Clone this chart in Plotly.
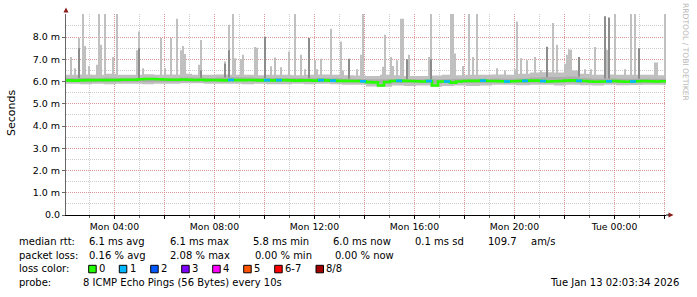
import plotly.graph_objects as go
import numpy as np

# ---------------- data ----------------
START_H = 2 + 3 / 60 + 34 / 3600      # Mon 02:03:34, hours since Mon 00:00
SPAN_H = 24.0

x_tick_hours = [4, 8, 12, 16, 20, 24]
x_tick_labels = ["Mon 04:00", "Mon 08:00", "Mon 12:00", "Mon 16:00", "Mon 20:00", "Tue 00:00"]
y_tick_vals = [0, 1, 2, 3, 4, 5, 6, 7, 8]
y_tick_labels = ["0.0", "1.0 m", "2.0 m", "3.0 m", "4.0 m", "5.0 m", "6.0 m", "7.0 m", "8.0 m"]

# median rtt (ms), 100 consecutive intervals of 14.4 min
median_ms = [
    6.05, 6.04, 6.05, 6.06, 6.06, 6.07, 6.06, 6.07, 6.07, 6.08, 6.08,
    6.08, 6.10, 6.11, 6.11, 6.10, 6.09, 6.08,
    6.08, 6.09, 6.08, 6.07, 6.08, 6.06, 6.07, 6.06, 6.05, 6.07, 6.06, 6.06, 6.07,
    6.06, 6.05, 6.06, 6.05, 6.06, 6.06, 6.05, 6.04, 6.05, 6.05, 6.04, 6.06, 6.05,
    6.04, 6.03, 6.03, 6.02, 6.02, 6.01, 5.97, 5.96,
    5.82, 5.98,
    6.02, 6.03, 6.03, 6.02, 6.01, 6.00, 6.02,
    5.82, 6.00,
    6.00, 5.95, 6.00, 6.02, 6.03, 6.03, 6.04, 6.02, 6.02, 6.01, 6.00, 6.01, 6.02, 6.03, 6.04, 6.04, 6.02, 6.00,
    6.01, 6.02, 6.04, 6.05, 6.03, 6.02, 6.00, 5.99, 6.00, 6.01, 6.02, 6.00, 5.99, 6.00, 6.01, 6.02, 6.01, 6.00, 6.01,
]
# lost pings per interval (same 100 intervals)
loss_pings = [
    0, 0, 0, 0, 0, 0, 0, 0, 0, 0, 0, 0, 0, 0, 0, 0, 0, 0, 0, 0,
    0, 0, 0, 0, 0, 0, 0, 1, 0, 0, 0, 0, 0, 1, 0, 1, 0, 0, 0, 0,
    0, 0, 1, 0, 1, 0, 0, 0, 0, 1, 0, 0, 0, 0, 0, 1, 0, 0, 0, 0,
    1, 0, 0, 1, 0, 0, 0, 0, 0, 1, 0, 0, 0, 1, 0, 0, 1, 0, 0, 1,
    0, 0, 0, 0, 0, 1, 0, 0, 0, 0, 1, 0, 0, 0, 1, 0, 0, 0, 0, 0,
]

# smoke envelope (ms), 48 half-hour intervals
smoke_hi = [6.30, 6.32, 6.30, 6.35, 6.30, 6.30, 6.33, 6.30, 6.32, 6.35, 6.30, 6.30,
            6.32, 6.30, 6.30, 6.28, 6.30, 6.30, 6.28, 6.30, 6.32, 6.30,
            6.28, 6.27, 6.25, 6.30, 6.28, 6.25, 6.25, 6.27, 6.30, 6.28, 6.30,
            6.30, 6.32, 6.30, 6.35, 6.40, 6.42, 6.40, 6.50, 6.35, 6.30, 6.32,
            6.30, 6.30, 6.30, 6.28]
smoke_lo = [5.90, 5.88, 5.90, 5.88, 5.90, 5.90, 5.88, 5.90, 5.90, 5.92, 5.92, 5.90,
            5.90, 5.90, 5.88, 5.90, 5.88, 5.88, 5.90, 5.88, 5.90, 5.88,
            5.85, 5.85, 5.78, 5.76, 5.82, 5.80, 5.82, 5.76, 5.80, 5.82, 5.80,
            5.82, 5.85, 5.85, 5.83, 5.85, 5.85, 5.82, 5.85, 5.83, 5.82, 5.85,
            5.83, 5.84, 5.85, 5.85]
inner_hi = [6.16, 6.16, 6.15, 6.17, 6.16, 6.16, 6.17, 6.16, 6.16, 6.18, 6.17, 6.16,
            6.18, 6.19, 6.18, 6.16, 6.16, 6.15, 6.16, 6.15, 6.16, 6.15,
            6.12, 6.11, 6.10, 6.10, 6.11, 6.10, 6.10, 6.10, 6.11, 6.12, 6.12,
            6.12, 6.13, 6.12, 6.14, 6.18, 6.20, 6.20, 6.22, 6.15, 6.12, 6.13,
            6.12, 6.12, 6.12, 6.12]
inner_lo = [5.98, 5.97, 5.98, 5.98, 5.99, 5.99, 5.98, 5.99, 5.99, 6.00, 6.00, 6.00,
            6.01, 6.02, 6.01, 6.00, 5.99, 5.99, 5.99, 5.98, 5.98, 5.98,
            5.96, 5.95, 5.92, 5.90, 5.94, 5.94, 5.93, 5.90, 5.94, 5.94, 5.94,
            5.94, 5.95, 5.95, 5.94, 5.95, 5.96, 5.95, 5.95, 5.94, 5.93, 5.94,
            5.93, 5.94, 5.94, 5.94]

# light smoke spikes: time (h since Mon 00:00) and top (ms)
spike_h = [2.22, 2.43, 2.55, 2.74, 2.80, 3.01, 3.27, 3.34, 3.40, 3.49, 3.60, 3.95, 4.06, 4.12,
           4.88, 4.99, 5.10, 5.87, 6.00, 6.05, 6.22, 6.46, 6.52, 6.64, 6.70, 6.78, 7.38, 7.49,
           8.39, 8.54, 8.75, 8.82, 9.02, 9.10, 9.58, 9.69, 10.00, 10.27, 10.45, 10.67, 11.01,
           11.18, 11.47, 11.60, 12.05, 12.10, 12.27, 12.69, 13.02, 13.10, 13.71, 13.85, 13.90,
           13.96, 14.75, 14.84, 15.02, 15.10, 15.29, 15.46, 15.52, 15.78, 16.57, 16.62, 17.46,
           17.52, 17.60, 17.90, 18.18, 18.35, 18.49, 19.26, 19.64, 19.98, 20.06, 20.25, 20.50,
           20.81, 21.02, 21.55, 21.69, 22.02, 22.10, 22.18, 22.25, 22.82, 23.02, 23.25, 23.58,
           23.70, 23.98, 24.38, 24.64, 24.82, 25.60, 25.70, 25.98]
spike_top = [7.10, 6.60, 7.95, 9.05, 7.60, 6.70, 6.75, 9.05, 7.40, 7.65, 9.05, 7.10, 9.05, 9.05,
             7.40, 8.25, 6.60, 7.95, 6.55, 6.60, 7.95, 8.82, 8.82, 7.40, 7.60, 7.24, 6.75, 7.87,
             6.90, 8.55, 9.05, 7.05, 7.00, 7.20, 7.55, 7.52, 8.03, 6.68, 7.08, 6.64, 7.35,
             9.05, 7.20, 6.55, 6.95, 6.55, 7.02, 8.37, 7.80, 6.50, 6.55, 7.20, 9.05,
             9.05, 6.66, 8.10, 7.10, 6.70, 6.95, 8.82, 8.82, 7.20, 7.10, 9.05, 9.05,
             9.05, 7.26, 6.70, 9.05, 7.10, 9.05, 6.60, 6.50, 6.55, 8.70, 7.05, 6.95,
             7.10, 6.50, 8.63, 7.65, 6.80, 7.20, 7.45, 7.43, 6.55, 6.55, 7.55, 7.43,
             7.43, 9.05, 6.55, 9.05, 9.05, 6.85, 6.85, 9.05]
# dark (inner-percentile) spikes
dark_h = [2.55, 4.99, 7.49, 8.39, 8.54, 10.00, 11.75, 13.35, 15.66, 16.62, 21.29, 22.55,
          23.58, 23.75, 24.95]
dark_top = [7.50, 7.50, 6.50, 6.80, 7.40, 8.00, 7.95, 7.02, 7.00, 7.00, 7.56, 7.10,
            8.93, 8.88, 7.50]

loss_labels = ["0", "1", "2", "3", "4", "5", "6-7", "8/8"]
loss_colors = ["#26ff00", "#00b8ff", "#0059ff", "#7e00ff", "#ff00ff", "#ff5500", "#ff0000", "#a10000"]

# ---------------- build step series ----------------
NB = 300
bw = SPAN_H / NB
edges = START_H + np.arange(NB + 1) * bw
half = np.minimum((np.arange(NB) * bw / 0.5).astype(int), 47)

outer_lo = np.array(smoke_lo)[half]
outer_hi = np.array(smoke_hi)[half].copy()
for h, v in zip(spike_h, spike_top):
    i = int((h - START_H) / bw)
    if 0 <= i < NB:
        outer_hi[i] = max(outer_hi[i], v)
in_lo = np.array(inner_lo)[half]
in_hi = np.array(inner_hi)[half]
dk_hi = in_hi.copy()
for h, v in zip(dark_h, dark_top):
    i = int((h - START_H) / bw)
    if 0 <= i < NB:
        dk_hi[i] = max(dk_hi[i], v)


def step(arr):
    return list(arr) + [arr[-1]]


fig = go.Figure()


def band(lo, hi, color):
    fig.add_trace(go.Scatter(x=edges, y=step(lo), mode="lines", line=dict(width=0, shape="hv"),
                             hoverinfo="skip"))
    fig.add_trace(go.Scatter(x=edges, y=step(hi), mode="lines", line=dict(width=0, shape="hv"),
                             fill="tonexty", fillcolor=color, hoverinfo="skip"))


band(outer_lo, outer_hi, "#c0c0c0")
band(in_lo, in_hi, "#acacac")
band(in_hi, dk_hi, "#8c8c8c")

# median line coloured by loss
MB = len(median_ms)
mw = SPAN_H / MB
medges = START_H + np.arange(MB + 1) * mw
fig.add_trace(go.Scatter(x=medges, y=step(median_ms), mode="lines",
                         line=dict(color=loss_colors[0], width=2.6, shape="hv"), hoverinfo="skip"))
bx, by = [], []
for k in range(MB):
    if loss_pings[k] == 1:
        bx += [medges[k], medges[k + 1], None]
        by += [median_ms[k], median_ms[k], None]
fig.add_trace(go.Scatter(x=bx, y=by, mode="lines", line=dict(color=loss_colors[1], width=2.6),
                         hoverinfo="skip", connectgaps=False))

# ---------------- layout ----------------
L, T, W, H = 66, 14, 600, 201
YMAX = H / 22.25

major_x = list(range(4, 27, 2))
major_txt = [x_tick_labels[x_tick_hours.index(v)] if v in x_tick_hours else "" for v in major_x]

FONT = "DejaVu Sans"
MGRID = "rgba(230,110,110,0.55)"
fig.update_layout(
    width=697, height=297, margin=dict(l=L, r=697 - L - W, t=T, b=297 - T - H),
    paper_bgcolor="white", plot_bgcolor="white", showlegend=False,
    font=dict(family=FONT, size=10, color="#000000"),
    xaxis=dict(range=[START_H, START_H + SPAN_H], tickmode="array", tickvals=major_x, ticktext=major_txt,
               showgrid=True, gridcolor=MGRID, griddash="1px,1px", gridwidth=1,
               ticks="outside", ticklen=3, tickcolor="#000000", tickfont=dict(size=9.3, family=FONT),
               showline=True, linecolor="#000000", linewidth=1, zeroline=False,
               minor=dict(tickmode="linear", tick0=0, dtick=1, showgrid=True, gridcolor="#cccccc",
                          griddash="1px,1px", ticks="outside", ticklen=2, tickcolor="#666666")),
    yaxis=dict(range=[0, YMAX], tickmode="array", tickvals=y_tick_vals, ticktext=y_tick_labels,
               showgrid=True, gridcolor=MGRID, griddash="1px,1px", gridwidth=1,
               ticks="outside", ticklen=3, tickcolor="#666666", tickfont=dict(size=9.5, family=FONT),
               showline=True, linecolor="#666666", linewidth=1, zeroline=False,
               minor=dict(tickmode="linear", tick0=0, dtick=0.5, showgrid=True, gridcolor="#cccccc",
                          griddash="1px,1px", ticks="")),
)


def px(x):
    return (x - L) / W


def py(y):
    return (T + H - y) / H


ann = []


def text(x, y, s, anchor="left", size=10, color="#000000", angle=0):
    ann.append(dict(x=px(x), y=py(y), xref="paper", yref="paper", text=s, showarrow=False,
                    xanchor=anchor, yanchor="middle", textangle=angle,
                    font=dict(family=FONT, size=size, color=color)))


r1, r2, r3, r4 = 241.5, 255.0, 268.8, 282.5
text(16.7, r1, "median rtt:")
for x, s in [(87.3, "6.1 ms avg"), (167.7, "6.1 ms max"), (251.3, "5.8 ms min"), (331, "6.0 ms now"),
             (413.3, "0.1 ms sd"), (485.7, "109.7"), (529, "am/s")]:
    text(x, r1, s)
text(16.7, r2, "packet loss:")
for x, s in [(87.3, "0.16 % avg"), (168.3, "2.08 % max"), (253.3, "0.00 % min"), (333, "0.00 % now")]:
    text(x, r2, s)
text(16.7, r3, "loss color:")
box_x = [88.7, 119.3, 150.7, 181.7, 212.7, 243.7, 274.7, 316]
shapes = []
for bxp, lab, col in zip(box_x, loss_labels, loss_colors):
    shapes.append(dict(type="rect", xref="paper", yref="paper", x0=px(bxp), x1=px(bxp + 7.5),
                       y0=py(272.8), y1=py(265.3), fillcolor=col, line=dict(color="#000000", width=1)))
    text(bxp + 8.3, r3, lab)
text(16.7, r4, "probe:")
text(80.7, r4, "8 ICMP Echo Pings (56 Bytes) every 10s")
text(680.5, r4, "Tue Jan 13 02:03:34 2026", anchor="right")
text(11, 113, "Seconds", anchor="center", size=11, angle=-90)
text(686, 52, "RRDTOOL / TOBI OETIKER", anchor="center", size=7.6, color="#b8b8b8", angle=90)

# axis arrows
shapes.append(dict(type="path", xref="paper", yref="paper",
                   path=f"M {px(63.5)},{py(12.5)} L {px(68.5)},{py(12.5)} L {px(66)},{py(7.5)} Z",
                   fillcolor="#8b1a1a", line=dict(width=0)))
shapes.append(dict(type="path", xref="paper", yref="paper",
                   path=f"M {px(668.5)},{py(212.5)} L {px(668.5)},{py(217.5)} L {px(673.5)},{py(215)} Z",
                   fillcolor="#8b1a1a", line=dict(width=0)))
shapes.append(dict(type="line", xref="paper", yref="paper", x0=1, x1=px(669), y0=0, y1=0,
                   line=dict(color="#000000", width=1)))

fig.update_layout(annotations=ann, shapes=shapes)
fig.write_html("out.html", config={"displayModeBar": False})
